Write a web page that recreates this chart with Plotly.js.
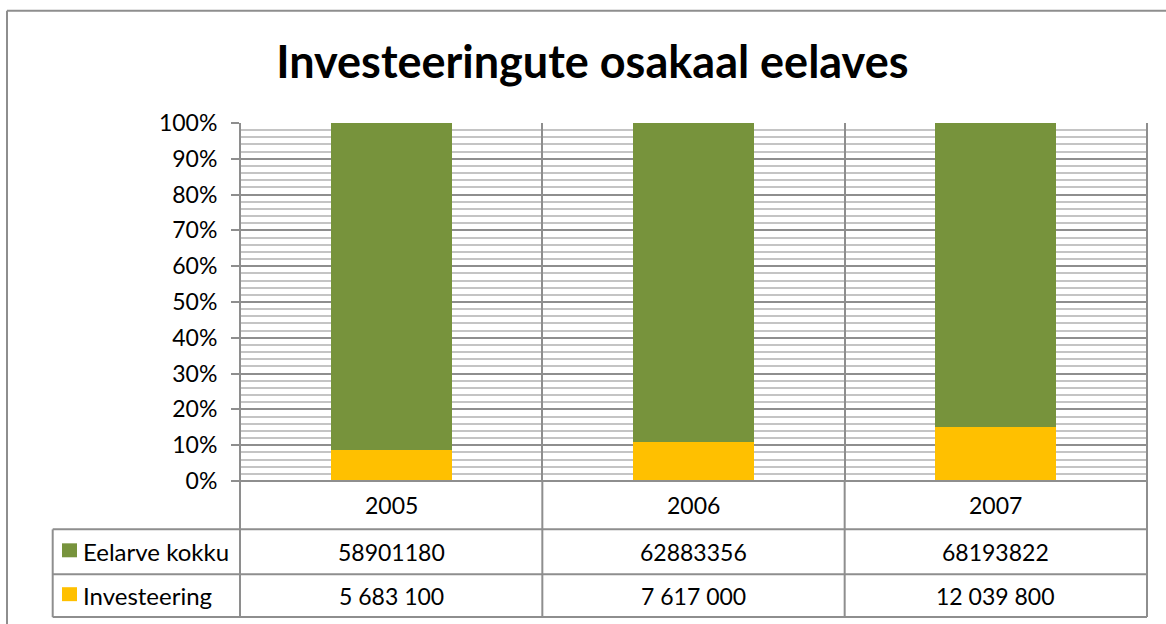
<!DOCTYPE html>
<html>
<head>
<meta charset="utf-8">
<script src="https://cdn.plot.ly/plotly-3.0.1.min.js"></script>
<style>html,body{margin:0;padding:0;background:#fff;}#chart{width:1166px;height:624px;}</style>
</head>
<body>
<div id="chart"></div>
<script>
// ---- data ----
var years = ['2005', '2006', '2007'];
var eelarveKokku = [58901180, 62883356, 68193822];
var investeering = [5683100, 7617000, 12039800];
var seriesNames = ['Eelarve kokku', 'Investeering'];
var titleText = 'Investeeringute osakaal eelaves';

// ---- styling / layout ----
var W = 1166, H = 624;
var PL = 240, PR = 1147, PT = 122.5, PB = 481.5;
var GREEN = '#77933C', YELLOW = '#FFC000', LINE = '#8e8e8e';
var FONT = 'Lato, "Open Sans", sans-serif';
function px(x){ return (x - PL) / (PR - PL); }
function py(y){ return (PB - y) / (PB - PT); }
function spaced(n){ return String(n).replace(/\B(?=(\d{3})+(?!\d))/g, ' '); }

var traces = [
  {type:'bar', name: seriesNames[1], x: years, y: investeering, marker:{color: YELLOW}, hoverinfo:'none'},
  {type:'bar', name: seriesNames[0], x: years, y: eelarveKokku, marker:{color: GREEN}, hoverinfo:'none'}
];

var rowTop = 530, rowMid = 575, rowBot = 618, tableLeft = 52.7;
var shapes = [];
function hline(x0, x1, y){ shapes.push({type:'line', xref:'paper', yref:'paper', x0:px(x0), x1:px(x1), y0:py(y), y1:py(y), line:{color:LINE, width:2}}); }
function vline(x, y0, y1){ shapes.push({type:'line', xref:'paper', yref:'paper', x0:px(x), x1:px(x), y0:py(y0), y1:py(y1), line:{color:LINE, width:2}}); }
hline(PL, PR, PB);
hline(tableLeft, PR, rowTop);
hline(tableLeft, PR, rowMid);
hline(tableLeft, PR, rowBot);
vline(tableLeft, rowTop, rowBot);
vline(PL, PT, rowBot);
for (var i = 0; i <= years.length; i++) {
  var bx = PL + (PR - PL) * i / years.length;
  vline(bx, PB, rowBot);
}
vline(PR, PT, PB);
vline(7, 10, H + 5);
hline(7, W + 5, 10);
shapes.push({type:'rect', xref:'paper', yref:'paper', x0:px(62), x1:px(77), y0:py(544), y1:py(558), fillcolor:GREEN, line:{width:0}});
shapes.push({type:'rect', xref:'paper', yref:'paper', x0:px(62), x1:px(77), y0:py(588), y1:py(602), fillcolor:YELLOW, line:{width:0}});

var annotations = [];
var numFont = {family: FONT, size: 23, color: '#000'};
var legFont = {family: FONT, size: 24, color: '#000'};
function catX(i){ return px(PL + (PR - PL) * (i + 0.5) / years.length); }
years.forEach(function(yr, i){
  annotations.push({xref:'paper', yref:'paper', x: catX(i), y: py(505.5), text: yr, showarrow:false, font:numFont, xanchor:'center', yanchor:'middle'});
  annotations.push({xref:'paper', yref:'paper', x: catX(i), y: py(552.5), text: String(eelarveKokku[i]), showarrow:false, font:numFont, xanchor:'center', yanchor:'middle'});
  annotations.push({xref:'paper', yref:'paper', x: catX(i), y: py(596.5), text: spaced(investeering[i]), showarrow:false, font:numFont, xanchor:'center', yanchor:'middle'});
});
annotations.push({xref:'paper', yref:'paper', x: px(81), y: py(552.5), text: seriesNames[0], showarrow:false, font:legFont, xanchor:'left', yanchor:'middle'});
annotations.push({xref:'paper', yref:'paper', x: px(81), y: py(596.5), text: seriesNames[1], showarrow:false, font:legFont, xanchor:'left', yanchor:'middle'});

var layout = {
  width: W, height: H,
  margin: {l: PL, r: W - PR, t: PT, b: H - PB, pad: 0},
  paper_bgcolor: '#fff', plot_bgcolor: '#fff',
  title: {text: '<b>' + titleText + '</b>', font: {family: FONT, size: 45, color: '#000'}, x: 0.508, xanchor: 'center', y: 1 - 62 / H, yanchor: 'middle'},
  barmode: 'stack', barnorm: 'percent', bargap: 0.6,
  showlegend: false,
  font: {family: FONT, color: '#000'},
  xaxis: {type: 'category', tickson: 'boundaries', showgrid: true, gridcolor: LINE, gridwidth: 2,
          showticklabels: false, ticks: '', showline: false, zeroline: false, range: [-0.5, 2.5], fixedrange: true},
  yaxis: {range: [0, 100], dtick: 10, ticksuffix: '%', ticks: 'outside', ticklen: 8, tickwidth: 2, tickcolor: LINE,
          showgrid: true, gridcolor: LINE, gridwidth: 2, zeroline: false, showline: false,
          minor: {dtick: 2, showgrid: true, gridcolor: '#c4c4c4', gridwidth: 2, ticks: ''},
          tickfont: {family: FONT, size: 23, color: '#000'}, ticklabelstandoff: 9, fixedrange: true},
  shapes: shapes,
  annotations: annotations
};

Plotly.newPlot('chart', traces, layout, {displayModeBar: false, staticPlot: true});
</script>
</body>
</html>
